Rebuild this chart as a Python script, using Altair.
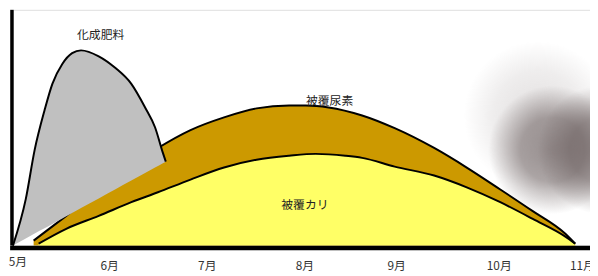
import altair as alt
import pandas as pd

# x: months since 5月 (0 = 5月, 6 = 11月); y: relative amount (0-100)
gray_t     = [0, 0.137, 0.232, 0.337, 0.421, 0.527, 0.632, 0.727, 0.916, 1.095, 1.264, 1.411, 1.517, 1.601, 1.632]
gray_top   = [0, 19.7, 40.6, 57.3, 68.6, 77.0, 81.6, 82.8, 80.3, 75.3, 68.6, 58.6, 50.2, 39.3, 35.6]
gray_low   = [0, 3.0, 5.1, 7.3, 9.2, 11.5, 13.8, 15.9, 20.0, 23.9, 27.6, 30.8, 33.1, 34.9, 35.6]

urea_t     = [0.221, 0.569, 0.916, 1.232, 1.548, 1.896, 2.254, 2.601, 2.949, 3.128, 3.370, 3.728, 4.076, 4.497, 4.845, 5.203, 5.550, 5.898, 6.003]
urea_top   = [2.1, 12.6, 23.0, 33.1, 41.4, 49.0, 54.4, 58.2, 59.4, 59.4, 58.6, 55.2, 49.8, 41.4, 33.1, 23.8, 14.6, 5.0, 0.8]

kali_t     = [0.274, 0.569, 0.916, 1.264, 1.548, 1.896, 2.254, 2.601, 2.949, 3.233, 3.549, 3.728, 4.076, 4.497, 4.845, 5.203, 5.550, 5.898, 6.003]
kali_top   = [0.8, 7.1, 12.6, 18.4, 22.6, 28.0, 33.1, 36.4, 38.1, 38.9, 38.1, 37.2, 33.5, 29.7, 24.7, 18.4, 11.3, 3.8, 0.8]

month_labels = ["5月", "6月", "7月", "8月", "9月", "10月", "11月"]
month_pos    = [0.053, 1.032, 2.075, 3.117, 4.097, 5.192, 6.08]
month_y      = [-6.9, -8.6, -8.6, -8.6, -8.6, -8.6, -8.6]

series_labels = ["化成肥料", "被覆尿素", "被覆カリ"]
series_lab_t  = [0.937, 3.381, 3.117]
series_lab_y  = [89.5, 61.5, 17.2]

XS = alt.Scale(domain=[0, 6.161], nice=False, zero=False)
YS = alt.Scale(domain=[0, 100], nice=False, zero=False)
FONT = "Noto Sans CJK JP"

gray_df = pd.DataFrame({"t": gray_t, "top": gray_top, "low": gray_low})
urea_df = pd.DataFrame({"t": urea_t, "top": urea_top, "base": [0.0] * len(urea_t)})
kali_df = pd.DataFrame({"t": kali_t, "top": kali_top, "base": [0.0] * len(kali_t)})
mon_df = pd.DataFrame({"label": month_labels, "t": month_pos, "y": month_y})
lab_df = pd.DataFrame({"label": series_labels, "t": series_lab_t, "y": series_lab_y})

X = lambda f="t": alt.X(f"{f}:Q", scale=XS, axis=None)
Y = lambda f: alt.Y(f"{f}:Q", scale=YS, axis=None)

# blurred shadow at the right: square radial-gradient patches
def radial(stops):
    return alt.Gradient(gradient="radial", x1=0.5, y1=0.5, r1=0, x2=0.5, y2=0.5, r2=0.5,
                        stops=[alt.GradientStop(color=c, offset=o) for o, c in stops])

core_stops = [(0, "rgba(95,82,82,0.6)"), (0.5, "rgba(95,82,82,0.5)"),
              (0.8, "rgba(95,82,82,0.2)"), (1, "rgba(95,82,82,0)")]
halo_stops = [(0, "rgba(120,108,108,0.22)"), (0.6, "rgba(120,108,108,0.12)"), (1, "rgba(120,108,108,0)")]

halo = alt.Chart(pd.DataFrame({"t": [4.813], "t2": [6.393], "y": [86.6], "y2": [23.8]})).mark_rect(
    fill=radial(halo_stops)).encode(x=X(), x2="t2:Q", y=Y("y"), y2="y2:Q")
core = alt.Chart(pd.DataFrame({"t": [5.076, 5.603], "t2": [6.446, 6.972],
                               "y": [67.8, 67.8], "y2": [13.4, 13.4]})).mark_rect(
    fill=radial(core_stops)).encode(x=X(), x2="t2:Q", y=Y("y"), y2="y2:Q")

urea_area = alt.Chart(urea_df).mark_area(color="#cc9900", interpolate="monotone").encode(
    x=X(), y=Y("top"), y2="base:Q")
kali_area = alt.Chart(kali_df).mark_area(color="#ffff66", interpolate="monotone").encode(
    x=X(), y=Y("top"), y2="base:Q")
urea_line = alt.Chart(urea_df).mark_line(color="black", strokeWidth=2, interpolate="monotone").encode(
    x=X(), y=Y("top"))
kali_line = alt.Chart(kali_df).mark_line(color="black", strokeWidth=2, interpolate="monotone").encode(
    x=X(), y=Y("top"))
gray_area = alt.Chart(gray_df).mark_area(color="#c0c0c0", interpolate="monotone").encode(
    x=X(), y=Y("top"), y2="low:Q")
gray_line = alt.Chart(gray_df).mark_line(color="black", strokeWidth=2, interpolate="monotone").encode(
    x=X(), y=Y("top"))

left_axis = alt.Chart(pd.DataFrame({"t": [-0.0105], "y": [0.0], "y2": [100.0]})).mark_rule(
    color="black", strokeWidth=3.5).encode(x=X(), y=Y("y"), y2="y2:Q")
bottom_axis = alt.Chart(pd.DataFrame({"t": [-0.03], "t2": [6.161], "y": [-1.05]})).mark_rule(
    color="black", strokeWidth=4.5).encode(x=X(), x2="t2:Q", y=Y("y"))

mon_text = alt.Chart(mon_df).mark_text(font=FONT, fontSize=12, color="#333333", baseline="middle").encode(
    x=X(), y=Y("y"), text="label:N")
lab_text = alt.Chart(lab_df).mark_text(font=FONT, fontSize=12, color="#222222", baseline="middle").encode(
    x=X(), y=Y("y"), text="label:N")

chart = alt.layer(
    halo, core, urea_area, kali_area, urea_line, kali_line, gray_area, gray_line,
    left_axis, bottom_axis, mon_text, lab_text,
).properties(
    width=585, height=239,
    padding={"left": 5, "top": 0, "right": 0, "bottom": 29},
    autosize=alt.AutoSizeParams(type="none"),
).configure_view(stroke=None).configure(background="white")

chart.save("out.html", embed_options={"renderer": "svg", "actions": False})
